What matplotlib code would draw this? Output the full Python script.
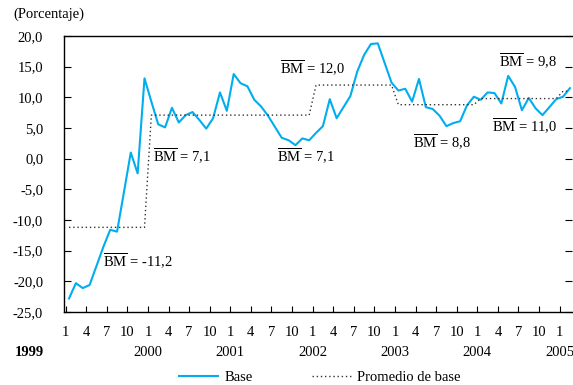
import numpy as np
import matplotlib
matplotlib.use('Agg')
import matplotlib.pyplot as plt

plt.rcParams['font.family'] = ['Liberation Serif', 'DejaVu Serif']
plt.rcParams['mathtext.fontset'] = 'custom'
plt.rcParams['mathtext.rm'] = 'Liberation Serif'

# monthly series, Jan 1999 - Feb 2005
base = [-22.8, -20.3, -21.1, -20.6, -17.5, -14.4, -11.6, -11.9, -5.5, 1.0, -2.4, 13.1,
        9.3, 5.6, 5.1, 8.3, 5.9, 7.1, 7.6, 6.3, 4.9, 6.6, 10.8, 7.8,
        13.8, 12.3, 11.8, 9.6, 8.5, 7.0, 5.2, 3.4, 3.0, 2.2, 3.3, 3.0,
        4.2, 5.3, 9.7, 6.6, 8.4, 10.2, 14.2, 16.9, 18.7, 18.8, 15.6, 12.4,
        11.1, 11.4, 9.3, 13.0, 8.4, 8.1, 7.0, 5.3, 5.8, 6.1, 8.7, 10.1,
        9.6, 10.8, 10.7, 9.0, 13.5, 11.7, 7.9, 9.9, 8.2, 7.1, 8.4, 9.7,
        10.1, 11.5]
years = ['1999', '2000', '2001', '2002', '2003', '2004', '2005']
year_avg = [-11.2, 7.1, 7.1, 12.0, 8.8, 9.8, 11.0]
months_in_year = [12, 12, 12, 12, 12, 12, 2]
avg_labels = ['-11,2', '7,1', '7,1', '12,0', '8,8', '9,8', '11,0']
month_labels = ['1', '4', '7', '10']

promedio = np.repeat(year_avg, months_in_year)
x = np.arange(len(base))

fig = plt.figure(figsize=(5.73, 3.85), dpi=100)
ax = fig.add_axes([64/573, 1 - 312/385, 508/573, 276/385])

ax.plot(x, base, color='#00aeef', lw=1.5, label='Base')
ax.plot(x, promedio, color='#333333', lw=1.0, ls=(0, (1, 2)), label='Promedio de base')

ax.set_ylim(-25, 20)
ax.set_xlim(-0.73, 73.3)
yt = np.arange(-25, 21, 5)
ax.set_yticks(yt)
ax.set_yticklabels([('%.1f' % v).replace('.', ',') for v in yt], fontsize=10.5)
ax.tick_params(axis='y', direction='in', length=5, pad=15, right=True, width=0.8)

xt = np.arange(0, 73, 3) - 0.5
ax.set_xticks(xt)
ax.set_xticklabels([month_labels[k % 4] for k in range(len(xt))], fontsize=10.5)
ax.tick_params(axis='x', direction='in', length=4, pad=10, width=0.8)

for s in ['left', 'bottom', 'top']:
    ax.spines[s].set_linewidth(1.0)
ax.spines['right'].set_visible(False)

# year labels under the month labels
for k, yr in enumerate(years):
    xpos = k * 12 - 0.5
    if k == 0:
        ax.text(-5.8, -31.6, yr, ha='center', va='center', fontsize=10.5,
                fontweight='bold', clip_on=False)
    else:
        ax.text(xpos, -31.6, yr, ha='center', va='center', fontsize=10.5, clip_on=False)

# average annotations
ann_pos = [(4.95, -16.8), (12.2, 0.35), (30.3, 0.35), (30.7, 14.7),
           (50.1, 2.7), (62.7, 15.8), (61.7, 5.3)]
for (ax_x, ax_y), lab in zip(ann_pos, avg_labels):
    ax.text(ax_x, ax_y, r'$\overline{\mathrm{BM}}$ = ' + lab, ha='left', va='center',
            fontsize=10.5)

fig.text(13/573, 1 - 14/385, '(Porcentaje)', ha='left', va='center', fontsize=10.5)

leg = fig.legend(loc='center', bbox_to_anchor=(320/573, 1 - 377/385), ncol=2, frameon=False,
                 fontsize=10.5, handlelength=2.7, columnspacing=4.1, handletextpad=0.4)

fig.savefig('out.png', dpi=100)
